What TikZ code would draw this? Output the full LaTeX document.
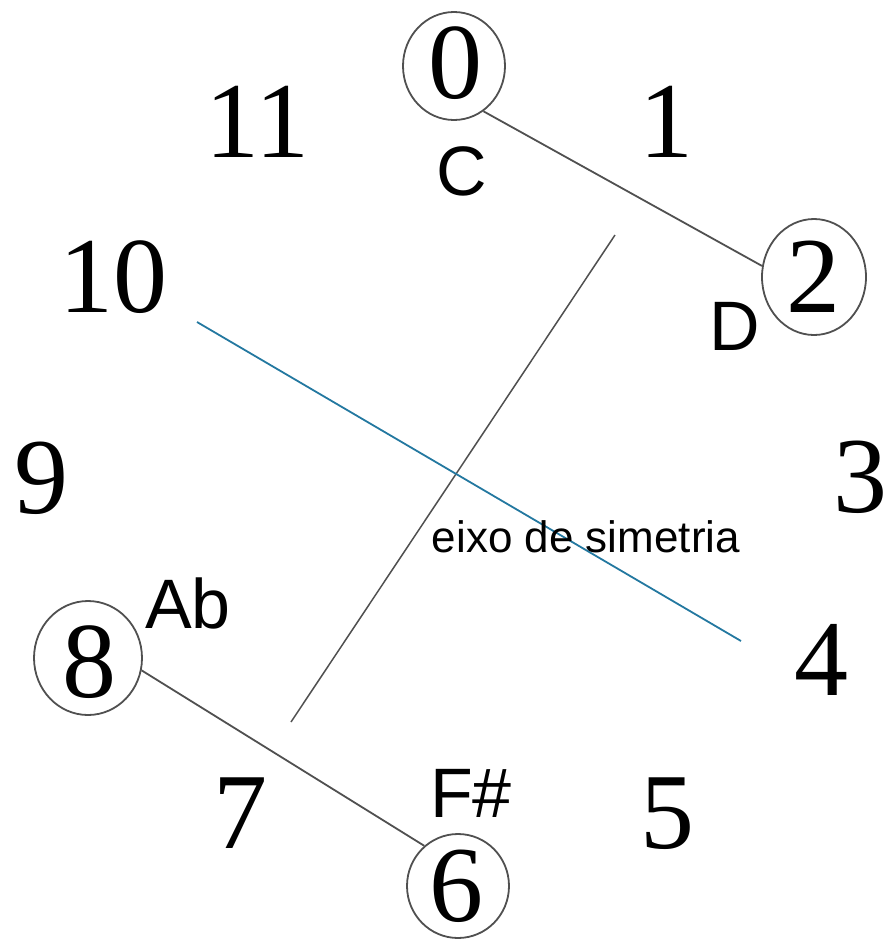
\documentclass[tikz,border=0pt]{standalone}
\usepackage{fontspec}
\setmainfont{Liberation Serif}
\newfontfamily\labsans{Liberation Sans}
\usetikzlibrary{shapes.geometric}
\definecolor{linegray}{RGB}{80,80,80}
\definecolor{axisblue}{RGB}{35,120,160}
\tikzset{
  num/.style={anchor=base, inner sep=0pt, font=\fontsize{108}{108}\selectfont},
  note/.style={anchor=base, inner sep=0pt, font=\labsans\fontsize{70}{70}\selectfont},
  ring/.style={draw=linegray, line width=1.8pt, ellipse, inner sep=0pt},
  link/.style={draw=linegray, line width=1.8pt},
}
\begin{document}
\begin{tikzpicture}[x=1pt,y=-1pt]
\useasboundingbox (0,0) rectangle (888,940);
% circles
\node[ring, minimum width=102pt, minimum height=108pt] (c0) at (454,66) {};
\node[ring, minimum width=104pt, minimum height=116pt] (c2) at (814,277) {};
\node[ring, minimum width=108pt, minimum height=114pt] (c8) at (88,658) {};
\node[ring, minimum width=102pt, minimum height=104pt] (c6) at (458,886) {};
% numbers
\node[num] (n0) at (455,98) {0};
\node[num] (n1) at (666,157) {1};
\node[num] (n2) at (813,312) {2};
\node[num] (n3) at (860,512) {3};
\node[num] (n4) at (821,695) {4};
\node[num] (n5) at (667,848) {5};
\node[num] (n6) at (456,921) {6};
\node[num] (n7) at (240,848) {7};
\node[num] (n8) at (89,697) {8};
\node[num] (n9) at (41,513) {9};
\node[num] (n10) at (113,312) {10};
\node[num] (n11) at (257,157) {11};
% note names
\node[note] (lC) at (462,195) {C};
\node[note] (lD) at (735,350) {D};
\node[note] (lAb) at (188,628) {Ab};
\node[note] (lFs) at (471,817) {F\#};
% connectors
\draw[link] (c0.-57) -- (c2.168);
\draw[link] (c8.-13) -- (c6.130);
% axis lines
\coordinate (a1) at (615,235);
\coordinate (a2) at (291,722);
\draw[link, line width=1.5pt] (a1) -- (a2);
\coordinate (b1) at (197,322);
\coordinate (b2) at (741,641);
\draw[axisblue, line width=1.8pt] (b1) -- (b2);
\node[anchor=base, inner sep=0pt, font=\labsans\fontsize{44}{44}\selectfont] (lab) at (586,552) {eixo de simetria};
\end{tikzpicture}
\end{document}
